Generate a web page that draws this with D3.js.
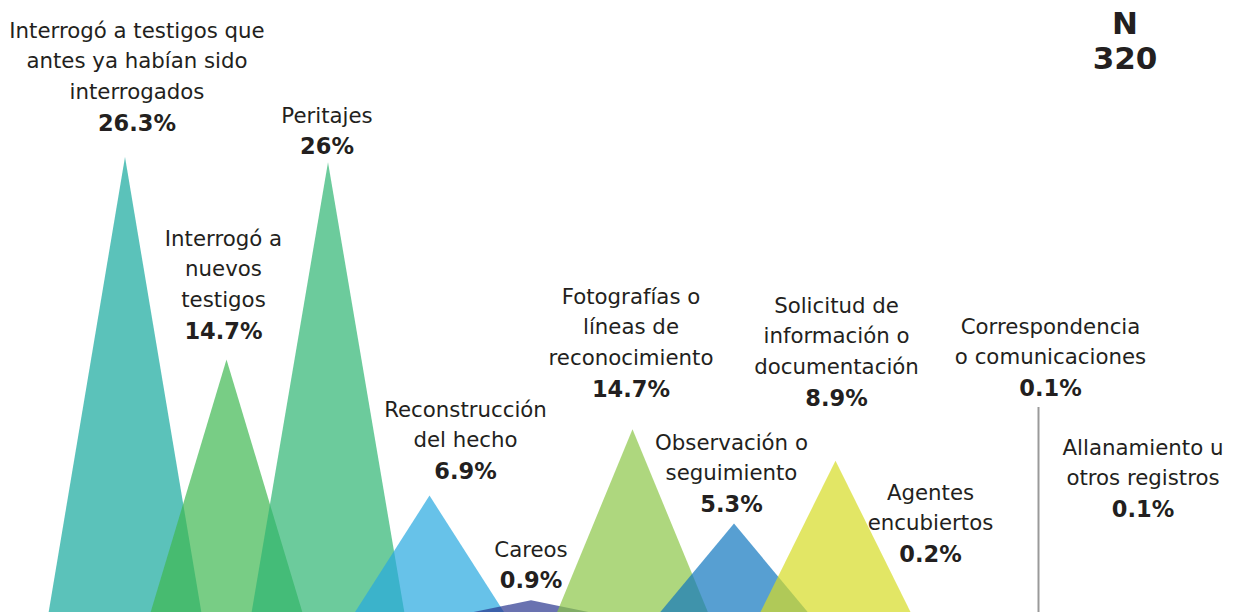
<!DOCTYPE html>
<html>
<head>
<meta charset="utf-8">
<script src="https://cdn.jsdelivr.net/npm/d3@7"></script>
<style>
  body { margin: 0; background: #fff; }
  svg { display: block; font-family: "DejaVu Sans", Verdana, sans-serif; }
</style>
</head>
<body>
<div id="chart"></div>
<script>
// datos
const categorias = ["testigosPrevios", "nuevosTestigos", "peritajes", "reconstruccion", "careos",
  "fotografias", "observacion", "solicitud", "agentes", "correspondencia", "allanamiento"];
const etiquetas = [
  ["Interrogó a testigos que", "antes ya habían sido", "interrogados"],
  ["Interrogó a", "nuevos", "testigos"],
  ["Peritajes"],
  ["Reconstrucción", "del hecho"],
  ["Careos"],
  ["Fotografías o", "líneas de", "reconocimiento"],
  ["Observación o", "seguimiento"],
  ["Solicitud de", "información o", "documentación"],
  ["Agentes", "encubiertos"],
  ["Correspondencia", "o comunicaciones"],
  ["Allanamiento u", "otros registros"]
];
const porcentajes = ["26.3%", "14.7%", "26%", "6.9%", "0.9%", "14.7%", "5.3%", "8.9%", "0.2%", "0.1%", "0.1%"];
// altura de cada triángulo
const alturas = [26.3, 14.7, 26, 6.9, 0.9, 10.7, 5.3, 8.9, 0.2, 0.1, 0.1];
const colores = ["#15a89c", "#3eb851", "#2db572", "#26a8e0", "#2a368e",
  "#8bc647", "#1076bf", "#d6db24", "#3b3570", "#999999", "#999999"];
const totalN = "320";

// posicion de las etiquetas (centro de la primera linea, desplazamiento x)
const posEtiqueta = [
  { y: 30, dx: 12 }, { y: 238, dx: -3 }, { y: 115, dx: -1 }, { y: 409, dx: 36 },
  { y: 549, dx: 0 }, { y: 296, dx: -1.5 }, { y: 442, dx: -2.5 }, { y: 305, dx: 1 },
  { y: 492, dx: -6.5 }, { y: 326, dx: 12 }, { y: 447, dx: 3 }
];

const width = 1236, height = 612;
const svg = d3.select("#chart").append("svg")
  .attr("width", width).attr("height", height);

const x = d3.scalePoint().domain(categorias).range([125, 1140]);
const y = d3.scaleLinear().domain([0, 26.3]).range([616, 157]);
const halfBase = 77;

const datos = categorias.map((c, i) => ({
  cat: c, alt: alturas[i], color: colores[i], lineas: etiquetas[i], pct: porcentajes[i], pos: posEtiqueta[i]
}));

// triangulos
svg.selectAll("path.tri")
  .data(datos.filter(d => d.cat !== "correspondencia" && d.cat !== "allanamiento"))
  .enter().append("path")
  .attr("class", "tri")
  .attr("d", d => {
    const cx = x(d.cat);
    return d3.line()([[cx - halfBase, y(0)], [cx, y(d.alt)], [cx + halfBase, y(0)]]) + "Z";
  })
  .attr("fill", d => d.color)
  .attr("fill-opacity", 0.7);

// linea guia de correspondencia
svg.append("line")
  .attr("x1", x("correspondencia")).attr("x2", x("correspondencia"))
  .attr("y1", 407).attr("y2", y(0))
  .attr("stroke", "#9a9a9a").attr("stroke-width", 2);

// etiquetas
const lh = 30.8;
const g = svg.selectAll("g.lab").data(datos).enter().append("g")
  .attr("class", "lab")
  .attr("transform", d => `translate(${x(d.cat) + d.pos.dx},${d.pos.y + 7.5})`);

g.each(function (d) {
  const sel = d3.select(this);
  d.lineas.forEach((t, k) => {
    sel.append("text")
      .attr("y", k * lh)
      .attr("text-anchor", "middle")
      .attr("font-size", 21.3)
      .attr("fill", "#231f20")
      .text(t);
  });
  sel.append("text")
    .attr("y", d.lineas.length * lh + 1)
    .attr("text-anchor", "middle")
    .attr("font-size", 22.5)
    .attr("font-weight", "bold")
    .attr("fill", "#231f20")
    .text(d.pct);
});

// N
svg.append("text").attr("x", 1125).attr("y", 34)
  .attr("text-anchor", "middle").attr("font-size", 31).attr("font-weight", "bold")
  .attr("fill", "#231f20").text("N");
svg.append("text").attr("x", 1125).attr("y", 68.5)
  .attr("text-anchor", "middle").attr("font-size", 31).attr("font-weight", "bold")
  .attr("fill", "#231f20").text(totalN);
</script>
</body>
</html>
